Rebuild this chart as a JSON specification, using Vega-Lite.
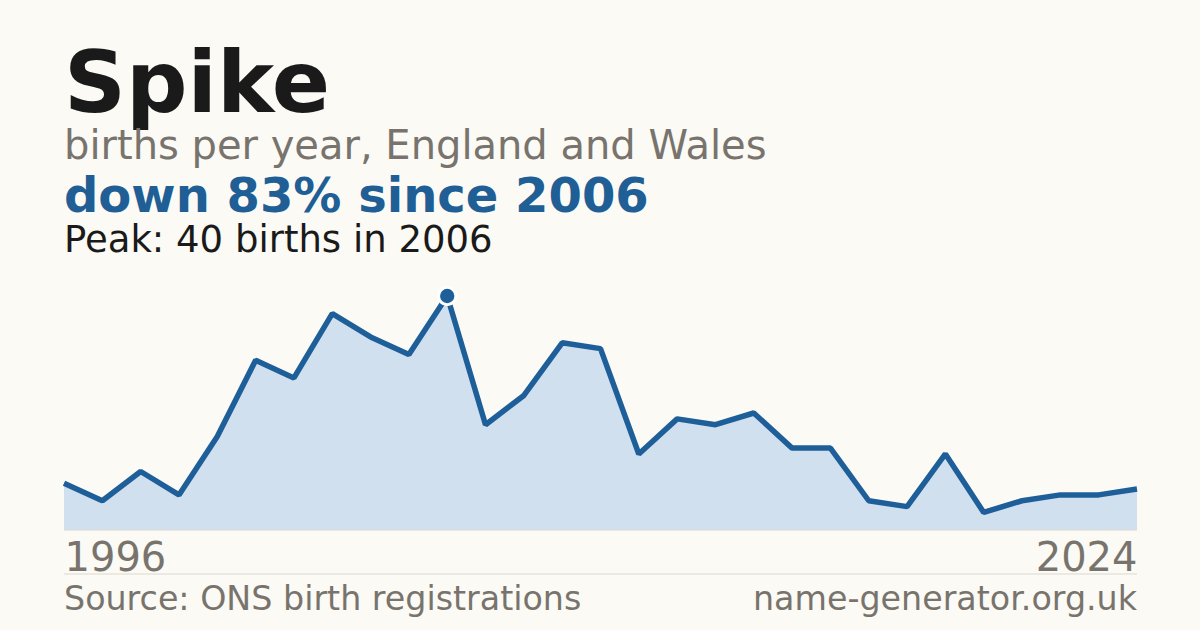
{
  "$schema": "https://vega.github.io/schema/vega-lite/v6.json",
  "width": 1073,
  "height": 234,
  "autosize": "none",
  "padding": {"left": 64, "top": 296, "right": 63, "bottom": 100},
  "background": "#fbfaf5",
  "datasets": {
    "births": [
      {"year": 1996, "births": 8},
      {"year": 1997, "births": 5},
      {"year": 1998, "births": 10},
      {"year": 1999, "births": 6},
      {"year": 2000, "births": 16},
      {"year": 2001, "births": 29},
      {"year": 2002, "births": 26},
      {"year": 2003, "births": 37},
      {"year": 2004, "births": 33},
      {"year": 2005, "births": 30},
      {"year": 2006, "births": 40},
      {"year": 2007, "births": 18},
      {"year": 2008, "births": 23},
      {"year": 2009, "births": 32},
      {"year": 2010, "births": 31},
      {"year": 2011, "births": 13},
      {"year": 2012, "births": 19},
      {"year": 2013, "births": 18},
      {"year": 2014, "births": 20},
      {"year": 2015, "births": 14},
      {"year": 2016, "births": 14},
      {"year": 2017, "births": 5},
      {"year": 2018, "births": 4},
      {"year": 2019, "births": 13},
      {"year": 2020, "births": 3},
      {"year": 2021, "births": 5},
      {"year": 2022, "births": 6},
      {"year": 2023, "births": 6},
      {"year": 2024, "births": 7}
    ],
    "labels": [
      {"role": "title", "text": "Spike"},
      {"role": "subtitle", "text": "births per year, England and Wales"},
      {"role": "headline", "text": "down 83% since 2006"},
      {"role": "peak", "text": "Peak: 40 births in 2006"},
      {"role": "source", "text": "Source: ONS birth registrations"},
      {"role": "site", "text": "name-generator.org.uk"}
    ]
  },
  "layer": [
    {
      "data": {"name": "births"},
      "mark": {"type": "area", "color": "#d0e0ef", "opacity": 1},
      "encoding": {
        "x": {
          "field": "year",
          "type": "quantitative",
          "scale": {"domain": [1996, 2024], "nice": false, "zero": false},
          "axis": {
            "values": [1996, 2024],
            "format": "d",
            "title": null,
            "domain": false,
            "ticks": false,
            "tickSize": 0,
            "grid": false,
            "labelFont": "DejaVu Sans",
            "labelFontSize": 40,
            "labelColor": "#78746d",
            "labelPadding": 40,
            "labelBaseline": "alphabetic",
            "labelAlign": {"expr": "datum.value == 1996 ? 'left' : 'right'"},
            "labelFlush": false,
            "labelOverlap": false,
            "labelBound": false
          }
        },
        "y": {
          "field": "births",
          "type": "quantitative",
          "scale": {"domain": [0, 40], "nice": false},
          "axis": null
        }
      }
    },
    {
      "data": {"values": [{}]},
      "mark": {"type": "rule", "color": "#dcd8d0", "strokeWidth": 1},
      "encoding": {"x": {"datum": 1996}, "x2": {"datum": 2024}, "y": {"datum": 0}}
    },
    {
      "data": {"name": "births"},
      "mark": {"type": "line", "color": "#1f5f99", "strokeWidth": 5.5, "strokeJoin": "bevel"},
      "encoding": {
        "x": {"field": "year", "type": "quantitative"},
        "y": {"field": "births", "type": "quantitative"}
      }
    },
    {
      "data": {"name": "births"},
      "transform": [{"filter": "datum.year == 2006"}],
      "mark": {"type": "point", "shape": "circle", "filled": true, "size": 300, "color": "#1f5f99", "stroke": "#ffffff", "strokeWidth": 3, "opacity": 1},
      "encoding": {
        "x": {"field": "year", "type": "quantitative"},
        "y": {"field": "births", "type": "quantitative"}
      }
    },
    {
      "data": {"name": "labels"},
      "transform": [{"filter": "datum.role == 'title'"}],
      "mark": {"type": "text", "align": "left", "baseline": "alphabetic", "font": "DejaVu Sans", "fontWeight": "bold", "fontSize": 86, "color": "#1a1a1a"},
      "encoding": {"x": {"datum": 1996}, "y": {"datum": 71.45}, "text": {"field": "text"}}
    },
    {
      "data": {"name": "labels"},
      "transform": [{"filter": "datum.role == 'subtitle'"}],
      "mark": {"type": "text", "align": "left", "baseline": "alphabetic", "font": "DejaVu Sans", "fontSize": 40, "color": "#78746d"},
      "encoding": {"x": {"datum": 1996}, "y": {"datum": 63.4}, "text": {"field": "text"}}
    },
    {
      "data": {"name": "labels"},
      "transform": [{"filter": "datum.role == 'headline'"}],
      "mark": {"type": "text", "align": "left", "baseline": "alphabetic", "font": "DejaVu Sans", "fontWeight": "bold", "fontSize": 48, "color": "#1f5f96"},
      "encoding": {"x": {"datum": 1996}, "y": {"datum": 54.3}, "text": {"field": "text"}}
    },
    {
      "data": {"name": "labels"},
      "transform": [{"filter": "datum.role == 'peak'"}],
      "mark": {"type": "text", "align": "left", "baseline": "alphabetic", "font": "DejaVu Sans", "fontSize": 37, "color": "#1a1a1a"},
      "encoding": {"x": {"datum": 1996}, "y": {"datum": 47.45}, "text": {"field": "text"}}
    },
    {
      "data": {"values": [{}]},
      "mark": {"type": "rule", "color": "#dcd8d0", "strokeWidth": 1},
      "encoding": {"x": {"datum": 1996}, "x2": {"datum": 2024}, "y": {"datum": -7.52}}
    },
    {
      "data": {"name": "labels"},
      "transform": [{"filter": "datum.role == 'source'"}],
      "mark": {"type": "text", "align": "left", "baseline": "alphabetic", "font": "DejaVu Sans", "fontSize": 33.3, "color": "#78746d"},
      "encoding": {"x": {"datum": 1996}, "y": {"datum": -13.68}, "text": {"field": "text"}}
    },
    {
      "data": {"name": "labels"},
      "transform": [{"filter": "datum.role == 'site'"}],
      "mark": {"type": "text", "align": "right", "baseline": "alphabetic", "font": "DejaVu Sans", "fontSize": 33.3, "color": "#78746d"},
      "encoding": {"x": {"datum": 2024}, "y": {"datum": -13.68}, "text": {"field": "text"}}
    }
  ],
  "config": {"view": {"stroke": null}}
}
